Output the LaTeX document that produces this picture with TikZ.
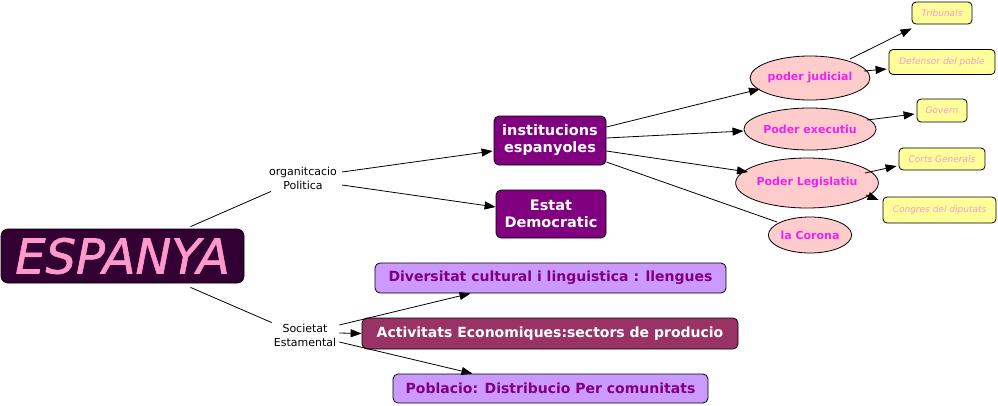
\documentclass[tikz,border=0pt]{standalone}
\usepackage{fontspec}
\setmainfont{DejaVu Sans}
\newfontfamily\espfont[FakeBold=1.2]{DejaVu Sans}
\usetikzlibrary{shapes.geometric,arrows.meta}
\definecolor{espdark}{HTML}{330033}
\definecolor{esppink}{HTML}{FF99CC}
\definecolor{instpurple}{HTML}{800080}
\definecolor{ellfill}{HTML}{FFCCCC}
\definecolor{elltext}{HTML}{EE22EE}
\definecolor{yelfill}{HTML}{FFFF99}
\definecolor{yeltext}{HTML}{FF99CC}
\definecolor{lavfill}{HTML}{CC99FF}
\definecolor{actfill}{HTML}{993366}
\begin{document}
\begin{tikzpicture}[x=1pt,y=-1pt,
  rbox/.style={draw=black, line width=0.8pt, rounded corners=5pt, inner sep=0pt, align=center},
  pbox/.style={rbox, fill=instpurple, text=white, font=\fontsize{14.5}{17}\selectfont\bfseries},
  ebox/.style={ellipse, draw=black, line width=0.8pt, fill=ellfill, text=elltext, inner sep=0pt, font=\fontsize{11}{13}\selectfont\bfseries},
  ybox/.style={rbox, fill=yelfill, text=yeltext, rounded corners=4pt, font=\fontsize{9}{11}\selectfont\itshape},
  lbox/.style={rbox, fill=lavfill, text=instpurple, font=\fontsize{14}{17}\selectfont\bfseries},
  lab/.style={inner sep=0pt, align=center, font=\fontsize{11}{14}\selectfont},
  arr/.style={line width=0.8pt, -{Triangle[length=11pt,width=8pt]}},
  ln/.style={line width=0.8pt}]
\useasboundingbox (0,0) rectangle (998,405);

\node[rbox, fill=espdark, text=esppink, minimum width=243pt, minimum height=54pt, rounded corners=7pt,
  font=\espfont\fontsize{48}{50}\selectfont\itshape] (esp) at (122.5,256) {ESPANYA};

\node[lab] (org) at (303,178) {organitcacio\\Politica};
\node[lab] (soc) at (305,335) {Societat\\Estamental};

\node[pbox, minimum width=112pt, minimum height=49pt] (inst) at (550,140.5) {institucions\\espanyoles};
\node[pbox, minimum width=110pt, minimum height=48pt] (estat) at (551,214) {Estat\\Democratic};

\node[ebox, minimum width=105pt, minimum height=44pt] (jud) at (810,78) {poder judicial};
\node[ebox, minimum width=110pt, minimum height=42pt] (exe) at (810,129) {Poder executiu};
\node[ebox, minimum width=119pt, minimum height=50pt] (leg) at (807,183) {Poder Legislatiu};
\node[ebox, minimum width=76pt, minimum height=36pt] (cor) at (810,235) {la Corona};

\node[ybox, minimum width=60pt, minimum height=22pt] (trib) at (942,13) {Tribunals};
\node[ybox, minimum width=106pt, minimum height=25pt] (def) at (942,62) {Defensor del poble};
\node[ybox, minimum width=50pt, minimum height=23pt] (gov) at (942,110.5) {Govern};
\node[ybox, minimum width=86pt, minimum height=22pt] (corts) at (942,159) {Corts Generals};
\node[ybox, minimum width=113pt, minimum height=26pt] (cong) at (939.5,210) {Congres del diputats};

\node[lbox, minimum width=351pt, minimum height=30pt] (div) at (550.5,278) {Diversitat cultural i linguistica : llengues};
\node[rbox, fill=actfill, text=white, font=\fontsize{14}{17}\selectfont\bfseries, minimum width=376pt, minimum height=31pt] (act) at (550,333.5) {Activitats Economiques:sectors de producio};
\node[lbox, minimum width=315pt, minimum height=29pt] (pob) at (550.5,388.5) {Poblacio: Distribucio Per comunitats};

% main branches
\draw[ln] ([shift={(68,-2)}]esp.north) -- ([shift={(2,2)}]org.south west);
\draw[ln] ([shift={(68,4)}]esp.south) -- ([shift={(-2,-1)}]soc.north west);

\draw[arr] ([shift={(5,-6)}]org.east) -- ([shift={(-1,10.5)}]inst.west);
\draw[arr] ([shift={(5,7)}]org.east) -- ([shift={(0,-7)}]estat.west);

\draw[arr] ([shift={(3,-10)}]soc.east) -- ([xshift=-80pt]div.south);
\draw[arr] ([shift={(3,-2)}]soc.east) -- (act.west);
\draw[arr] ([shift={(3,7)}]soc.east) -- ([xshift=-78pt]pob.north);

% institucions
\draw[arr] ([yshift=13.5pt]inst.east) -- ([shift={(-50,11)}]jud.center);
\draw[arr] ([yshift=2.5pt]inst.east) -- ([yshift=-2pt]exe.west);
\draw[arr] ([yshift=-10.5pt]inst.east) -- ([shift={(-59,-11)}]leg.center);
\draw[ln] ([yshift=-21.5pt]inst.east) -- ([shift={(-33,-13)}]cor.center);

% leaves
\draw[arr] ([shift={(40,-19)}]jud.center) -- ([shift={(0,4)}]trib.south west);
\draw[arr] ([shift={(54,-7)}]jud.center) -- ([shift={(-2,7)}]def.west);
\draw[arr] ([shift={(57,-9)}]exe.center) -- ([shift={(-2,3.5)}]gov.west);
\draw[arr] ([shift={(58,-10)}]leg.center) -- ([shift={(-2,7)}]corts.west);
\draw[arr] ([shift={(59,12)}]leg.center) -- ([shift={(-4,-10)}]cong.west);
\end{tikzpicture}
\end{document}
